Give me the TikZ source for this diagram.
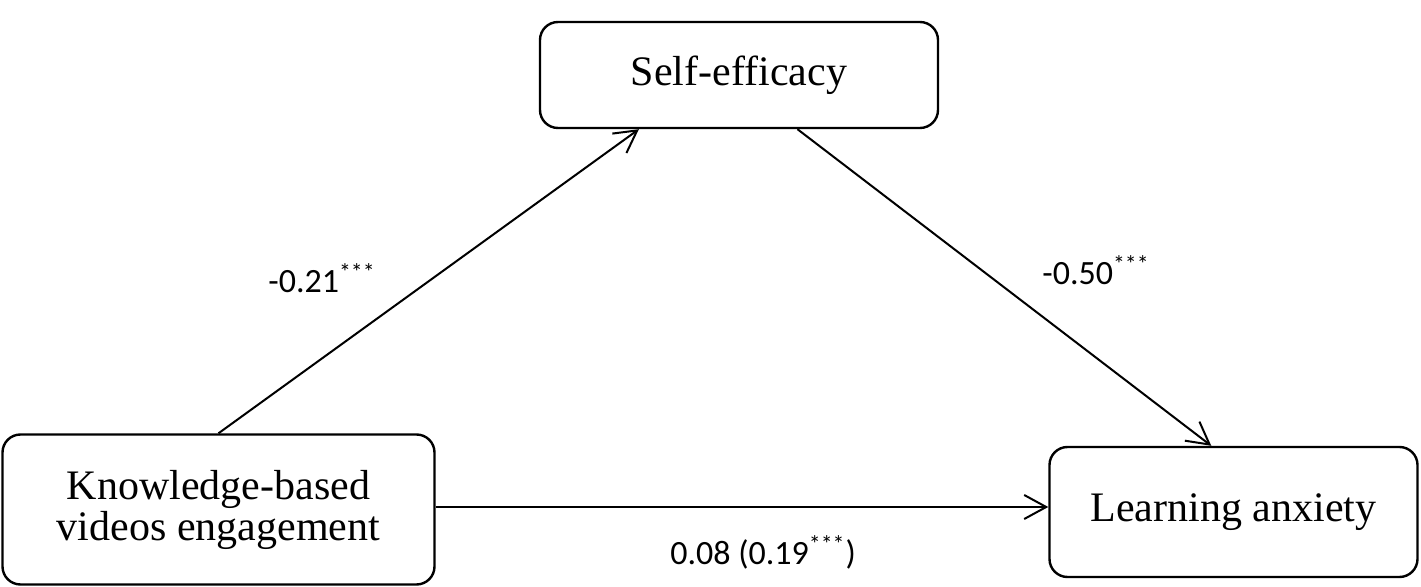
\documentclass[tikz,border=0pt]{standalone}
\usepackage{fontspec}
\setmainfont{Liberation Serif}
\newfontfamily\lblfont{Carlito}
\usetikzlibrary{arrows.meta,positioning,calc}

\begin{document}
\begin{tikzpicture}[x=0.5pt,y=-0.5pt]
	\tikzstyle{var}
	  =[draw, line width=1.2pt, rectangle, rounded corners=9pt,
	  align=center, font=\fontsize{21}{20.5}\selectfont]
	\tikzstyle{path}
	  =[line width=1pt, -{Straight Barb[length=11pt, width=12pt, line width=1pt]}]
	\tikzstyle{coef}
	  =[inner sep=0pt, anchor=base west, font=\lblfont\fontsize{17}{20}\selectfont]

	\useasboundingbox (0,0) rectangle (1421,587);

	\node[var, minimum width=216pt, minimum height=75pt] (kbve)
	  at (218.5,509.5) {Knowledge-based\\videos engagement};
	\node[var, minimum width=199pt, minimum height=53pt] (self)
	  at (739,75) {Self-efficacy};
	\node[var, minimum width=184pt, minimum height=65pt] (anx)
	  at (1233.5,512) {Learning anxiety};

	\draw[path] (kbve.north)
	  -- ($(self.south west)!0.25!(self.south east)$);
	\draw[path] ($(self.south west)!0.646!(self.south east)$)
	  -- ($(anx.north west)!0.44!(anx.north east)$);
	\draw[path] (kbve.east |- 0,507)
	  -- (anx.west |- 0,507);

	\node[coef] (c1) at (268,293) {-0.21\textsuperscript{***}};
	\node[coef] (c2) at (1042,285) {-0.50\textsuperscript{***}};
	\node[coef] (c3) at (670,565) {0.08 (0.19\textsuperscript{***})};
\end{tikzpicture}
\end{document}
